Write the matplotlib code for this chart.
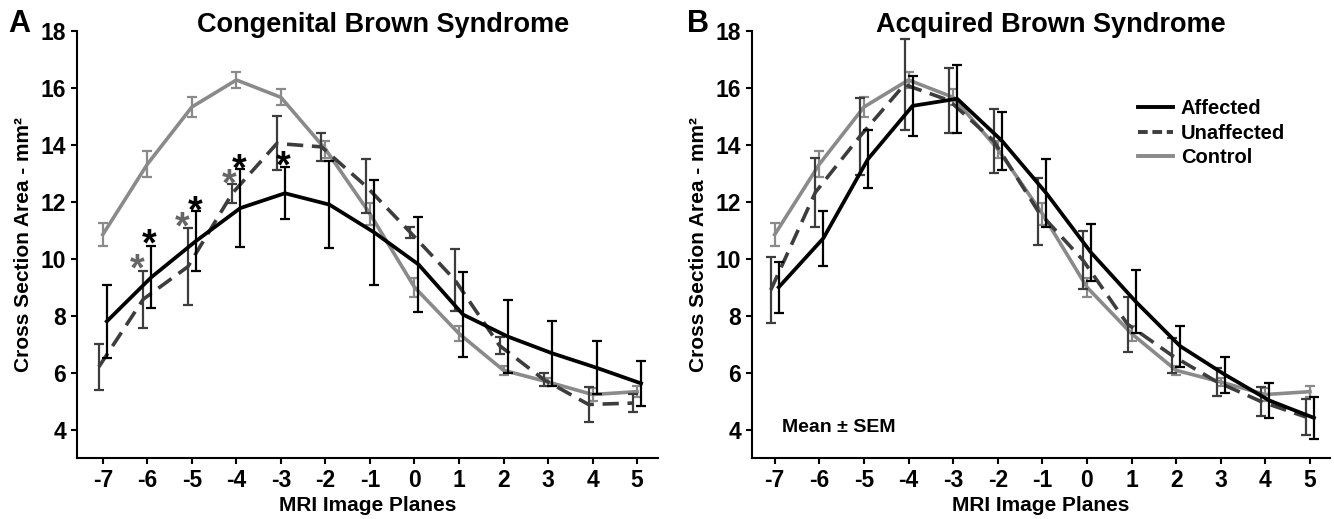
import matplotlib
matplotlib.use("Agg")
import matplotlib.pyplot as plt
import numpy as np
from matplotlib.transforms import ScaledTranslation
from matplotlib.lines import Line2D

plt.rcParams['font.family'] = ['Liberation Sans', 'DejaVu Sans']
plt.rcParams['font.weight'] = 'bold'
plt.rcParams['axes.unicode_minus'] = False

# ---------------- data ----------------
planes = [-7, -6, -5, -4, -3, -2, -1, 0, 1, 2, 3, 4, 5]

control = [10.85, 13.32, 15.33, 16.28, 15.67, 13.85, 11.58, 9.0, 7.37, 6.08, 5.67, 5.23, 5.33]
control_sem = [0.42, 0.45, 0.35, 0.28, 0.28, 0.3, 0.38, 0.33, 0.27, 0.15, 0.15, 0.22, 0.2]

congenital_affected = [7.8, 9.35, 10.62, 11.78, 12.3, 11.9, 10.93, 9.8, 8.04, 7.27, 6.68, 6.17, 5.62]
congenital_affected_sem = [1.27, 1.08, 1.06, 1.38, 0.92, 1.52, 1.84, 1.67, 1.48, 1.28, 1.14, 0.93, 0.8]
congenital_unaffected = [6.2, 8.58, 9.72, 12.3, 14.05, 13.93, 12.55, 10.92, 9.25, 6.95, 5.75, 4.88, 4.93]
congenital_unaffected_sem = [0.82, 1.0, 1.35, 0.33, 0.95, 0.49, 0.95, 0.2, 1.1, 0.3, 0.22, 0.62, 0.32]

acquired_affected = [9.0, 10.72, 13.5, 15.37, 15.62, 14.15, 12.3, 10.22, 8.5, 6.93, 5.93, 5.02, 4.41]
acquired_affected_sem = [0.9, 0.97, 1.02, 1.05, 1.2, 1.02, 1.2, 1.0, 1.1, 0.72, 0.63, 0.63, 0.75]
acquired_unaffected = [8.9, 12.33, 14.3, 16.12, 15.56, 14.14, 11.66, 9.95, 7.7, 6.6, 5.68, 4.98, 4.44]
acquired_unaffected_sem = [1.16, 1.21, 1.35, 1.6, 1.14, 1.12, 1.17, 1.02, 0.97, 0.6, 0.49, 0.52, 0.62]

# significance asterisks (panel A)
star_unaff_x = [-6.22, -5.21, -4.17]
star_unaff_y = [10.04, 11.51, 13.02]
star_aff_x = [-5.95, -4.92, -3.93, -2.96]
star_aff_y = [10.91, 12.07, 13.54, 13.65]

yticks = [4, 6, 8, 10, 12, 14, 16, 18]
series_labels = ['Affected', 'Unaffected', 'Control']

# ---------------- style ----------------
C_AFF = '#000000'
C_UNA = '#3d3d3d'
C_CON = '#8a8a8a'
W, H = 1334, 519
fig = plt.figure(figsize=(W / 100, H / 100), dpi=100)

axA = fig.add_axes([77 / W, 61 / H, 581 / W, 427 / H])
axB = fig.add_axes([752 / W, 61 / H, 578 / W, 427 / H])

x = np.array(planes, dtype=float)
OFF = 0.09


def draw(ax, aff, aff_sem, una, una_sem, xlim):
    h_con = ax.errorbar(x, control, yerr=control_sem, color=C_CON, lw=2.6,
                        elinewidth=1.6, capsize=3.5, capthick=1.6, zorder=2)
    h_una = ax.errorbar(x - OFF, una, yerr=una_sem, color=C_UNA, lw=2.6,
                        elinewidth=1.6, capsize=3.5, capthick=1.6, zorder=3)
    h_una[0].set_dashes((4.5, 2.4))
    h_aff = ax.errorbar(x + OFF, aff, yerr=aff_sem, color=C_AFF, lw=2.7,
                        elinewidth=1.6, capsize=3.5, capthick=1.6, zorder=4)
    ax.set_xlim(*xlim)
    ax.set_ylim(3, 18)
    ax.set_yticks(yticks)
    ax.set_xticks(planes)
    ax.spines['top'].set_visible(False)
    ax.spines['right'].set_visible(False)
    for s in ('left', 'bottom'):
        ax.spines[s].set_linewidth(1.5)
    ax.tick_params(axis='both', direction='out', length=4.5, width=1.5,
                   labelsize=16.5, pad=3.5)
    for lab in ax.get_xticklabels() + ax.get_yticklabels():
        lab.set_fontweight('bold')
    ax.set_xlabel('MRI Image Planes', fontsize=15, fontweight='bold', labelpad=3)
    ax.set_ylabel('Cross Section Area - mm²', fontsize=15, fontweight='bold', labelpad=5)
    return h_aff, h_una, h_con


draw(axA, congenital_affected, congenital_affected_sem,
     congenital_unaffected, congenital_unaffected_sem, (-7.58, 5.47))
draw(axB, acquired_affected, acquired_affected_sem,
     acquired_unaffected, acquired_unaffected_sem, (-7.51, 5.45))

# asterisks
fs_star = 27
off = ScaledTranslation(0, -0.60 * fs_star / 72, fig.dpi_scale_trans)
for sx, sy in zip(star_unaff_x, star_unaff_y):
    axA.text(sx, sy, '*', color='#666666', fontsize=fs_star, fontweight='bold',
             ha='center', va='baseline', transform=axA.transData + off)
for sx, sy in zip(star_aff_x, star_aff_y):
    axA.text(sx, sy, '*', color='#000000', fontsize=fs_star, fontweight='bold',
             ha='center', va='baseline', transform=axA.transData + off)

# titles & panel letters
fig.text(383 / W, 1 - 32 / H, 'Congenital Brown Syndrome', fontsize=19.5,
         fontweight='bold', ha='center', va='baseline')
fig.text(1051 / W, 1 - 32 / H, 'Acquired Brown Syndrome', fontsize=19.5,
         fontweight='bold', ha='center', va='baseline')
fig.text(8 / W, 1 - 32 / H, 'A', fontsize=22, fontweight='bold', ha='left', va='baseline')
fig.text(687 / W, 1 - 32 / H, 'B', fontsize=22, fontweight='bold', ha='left', va='baseline')

# legend
lh = [Line2D([], [], color=C_AFF, lw=2.8),
      Line2D([], [], color=C_UNA, lw=2.8, dashes=(2.5, 1.2)),
      Line2D([], [], color=C_CON, lw=2.8)]
fig.legend(lh, series_labels, loc='upper left',
           bbox_to_anchor=(1138 / W, 1 - 99 / H), frameon=False,
           borderpad=0, borderaxespad=0, handlelength=1.75,
           handletextpad=0.38, labelspacing=0.28,
           prop={'size': 14.5, 'weight': 'bold'})

fig.text(782 / W, 1 - 427 / H, 'Mean ± SEM', fontsize=14, fontweight='bold',
         ha='left', va='center')

fig.savefig('out.png', dpi=100)
